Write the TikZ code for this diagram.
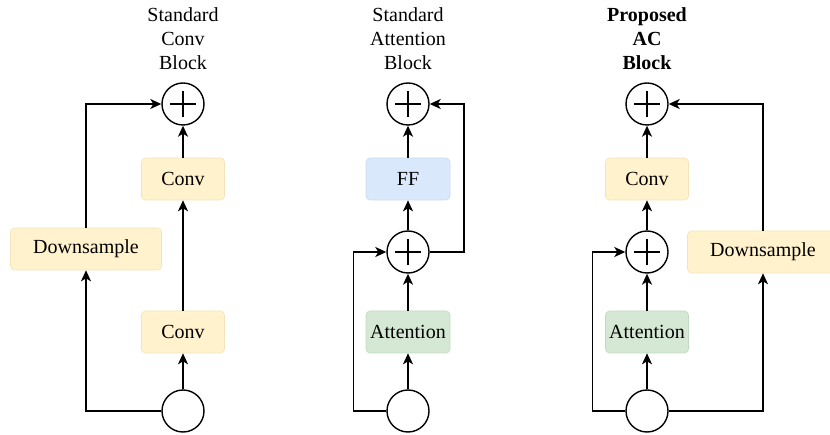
\documentclass[tikz,border=0pt]{standalone}
\usepackage{fontspec}
\setmainfont{Liberation Serif}
\usetikzlibrary{arrows.meta}
\definecolor{yelf}{HTML}{FFF2CC}
\definecolor{yeld}{HTML}{F3E3B8}
\definecolor{bluf}{HTML}{DAE8FC}
\definecolor{blud}{HTML}{C9DAF2}
\definecolor{grnf}{HTML}{D5E8D4}
\definecolor{grnd}{HTML}{C3DAC2}
\tikzset{
  blk/.style={rounded corners=4pt, minimum height=42pt, inner sep=0pt,
    font=\fontsize{20}{24}\selectfont, line width=0.6pt},
  yelbox/.style={blk, fill=yelf, draw=yeld},
  blubox/.style={blk, fill=bluf, draw=blud},
  grnbox/.style={blk, fill=grnf, draw=grnd},
  circ/.style={circle, draw, line width=1.4pt, minimum size=42pt, inner sep=0pt, fill=white},
  plus/.style={circ, path picture={
    \draw[line width=2.3pt] ([xshift=-13pt]path picture bounding box.center) -- ([xshift=13pt]path picture bounding box.center);
    \draw[line width=2.3pt] ([yshift=-13pt]path picture bounding box.center) -- ([yshift=13pt]path picture bounding box.center);}},
  arr/.style={line width=1.6pt, -{Stealth[length=11pt,width=10pt,inset=3pt]}},
  ttl/.style={align=center, font=\fontsize{20}{24}\selectfont},
}
\begin{document}
\begin{tikzpicture}[x=1pt,y=-1pt]
\useasboundingbox (0,0) rectangle (830,435);
\clip (0,0) rectangle (830,435);
% Panel 1
\node[ttl] (t1) at (183,39) {Standard\\Conv\\Block};
\node[plus] (p1) at (183,104) {};
\node[yelbox, minimum width=83pt] (c1a) at (183,179) {Conv};
\node[yelbox, minimum width=151pt] (ds1) at (86,249) {Downsample};
\node[yelbox, minimum width=83pt] (c1b) at (183,332) {Conv};
\node[circ] (in1) at (183,411) {};
\draw[arr] (in1) -- (c1b);
\draw[arr] (c1b) -- (c1a);
\draw[arr] (c1a) -- (p1);
\draw[arr] (in1.west) -| (ds1.south);
\draw[arr] (ds1.north) |- (p1.west);
% Panel 2
\node[ttl] (t2) at (408,39) {Standard\\Attention\\Block};
\node[plus] (p2) at (408,104) {};
\node[blubox, minimum width=84pt] (ff2) at (408,179) {FF};
\node[plus] (pm2) at (408,252) {};
\node[grnbox, minimum width=84pt] (at2) at (408,332) {Attention};
\node[circ] (in2) at (408,411) {};
\draw[arr] (in2) -- (at2);
\draw[arr] (at2) -- (pm2);
\draw[arr] (pm2) -- (ff2);
\draw[arr] (ff2) -- (p2);
\draw[arr] (in2.west) -- ++(-33,0) |- (pm2.west);
\draw[arr] (pm2.east) -- ++(34,0) |- (p2.east);
% Panel 3
\node[ttl, font=\fontsize{20}{24}\selectfont\bfseries] (t3) at (647,39) {Proposed\\AC\\Block};
\node[plus] (p3) at (647,104) {};
\node[yelbox, minimum width=83pt] (c3) at (647,179) {Conv};
\node[plus] (pm3) at (647,252) {};
\node[grnbox, minimum width=83pt] (at3) at (647,332) {Attention};
\node[circ] (in3) at (647,411) {};
\node[yelbox, minimum width=151pt] (ds3) at (763,252) {Downsample};
\draw[arr] (in3) -- (at3);
\draw[arr] (at3) -- (pm3);
\draw[arr] (pm3) -- (c3);
\draw[arr] (c3) -- (p3);
\draw[arr] (in3.west) -- ++(-33,0) |- (pm3.west);
\draw[arr] (in3.east) -| (ds3.south);
\draw[arr] (ds3.north) |- (p3.east);
\end{tikzpicture}
\end{document}
